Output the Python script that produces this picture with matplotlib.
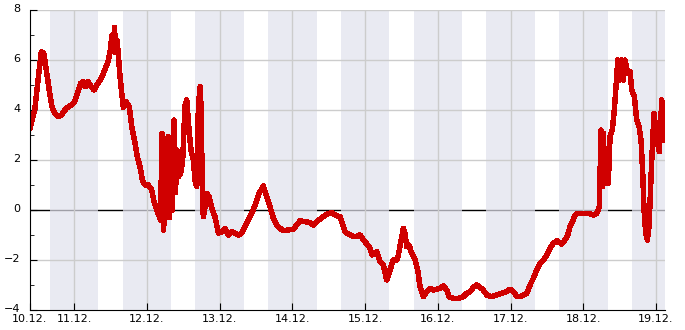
import numpy as np
import matplotlib
matplotlib.use("Agg")
import matplotlib.pyplot as plt
from matplotlib.ticker import MultipleLocator
from matplotlib.transforms import ScaledTranslation

# time in days since 10.12. 00:00, value
days = [0.395, 0.460, 0.505, 0.551, 0.584, 0.619, 0.666, 0.698, 0.735, 0.780,
        0.825, 0.894, 0.963, 1.010, 1.055, 1.092, 1.124, 1.155, 1.192, 1.238,
        1.275, 1.330, 1.375, 1.422, 1.467, 1.495, 1.522, 1.543, 1.557, 1.570,
        1.591, 1.612, 1.632, 1.656, 1.678, 1.715, 1.760, 1.793, 1.839, 1.870,
        1.907, 1.939, 1.976, 2.021, 2.068, 2.100, 2.137, 2.173, 2.189, 2.210,
        2.228, 2.251, 2.278, 2.292, 2.313, 2.333, 2.354, 2.375, 2.395, 2.416,
        2.437, 2.464, 2.492, 2.526, 2.549, 2.581, 2.608, 2.640, 2.663, 2.687,
        2.709, 2.732, 2.746, 2.764, 2.777, 2.801, 2.824, 2.856, 2.893, 2.938,
        2.984, 3.030, 3.076, 3.121, 3.168, 3.213, 3.258, 3.305, 3.351, 3.396,
        3.443, 3.488, 3.534, 3.580, 3.602, 3.649, 3.694, 3.740, 3.786, 3.832,
        3.877, 3.946, 4.014, 4.061, 4.107, 4.175, 4.244, 4.290, 4.336, 4.405,
        4.474, 4.542, 4.588, 4.656, 4.688, 4.725, 4.794, 4.863, 4.931, 5.000,
        5.069, 5.100, 5.161, 5.206, 5.252, 5.298, 5.344, 5.389, 5.436, 5.458,
        5.505, 5.527, 5.550, 5.573, 5.605, 5.642, 5.688, 5.724, 5.756, 5.801,
        5.848, 5.894, 5.939, 5.986, 6.031, 6.077, 6.123, 6.155, 6.214, 6.283,
        6.351, 6.398, 6.443, 6.489, 6.535, 6.581, 6.626, 6.673, 6.741, 6.810,
        6.879, 6.948, 6.993, 7.038, 7.085, 7.131, 7.176, 7.223, 7.268, 7.314,
        7.361, 7.406, 7.452, 7.498, 7.543, 7.589, 7.635, 7.704, 7.749, 7.786,
        7.818, 7.850, 7.887, 7.932, 8.001, 8.070, 8.138, 8.185, 8.221, 8.244,
        8.262, 8.276, 8.299, 8.322, 8.344, 8.368, 8.399, 8.427, 8.450, 8.474,
        8.505, 8.529, 8.551, 8.574, 8.611, 8.643, 8.666, 8.702, 8.735, 8.767,
        8.794, 8.817, 8.835, 8.859, 8.881, 8.904, 8.941, 8.973, 9.010, 9.046,
        9.079, 9.097, 9.110, 9.124]
values = [3.27, 4.0, 5.2, 6.33, 6.27, 5.6, 4.67, 4.13, 3.87, 3.73,
          3.8, 4.07, 4.2, 4.33, 4.73, 5.07, 5.13, 4.93, 5.13, 4.93,
          4.8, 5.07, 5.27, 5.6, 5.93, 6.3, 7.0, 6.4, 7.3, 6.3,
          6.8, 6.1, 5.33, 4.67, 4.1, 4.33, 4.13, 3.33, 2.67, 2.13,
          1.73, 1.2, 1.0, 1.0, 0.8, 0.33, 0.0, -0.27, -0.4, 3.07,
          -0.8, -0.13, 0.13, 2.93, -0.3, 2.9, 0.0, 3.6, 0.7, 2.4,
          1.33, 1.47, 1.9, 4.2, 4.4, 3.2, 2.4, 2.0, 1.2, 0.93,
          4.13, 4.93, 4.13, 0.8, -0.27, 0.13, 0.67, 0.53, 0.07, -0.27,
          -0.93, -0.87, -0.73, -1.0, -0.87, -0.93, -1.0, -0.93, -0.67, -0.4,
          -0.13, 0.2, 0.6, 0.85, 0.96, 0.53, 0.13, -0.33, -0.6, -0.73,
          -0.83, -0.8, -0.77, -0.6, -0.43, -0.47, -0.5, -0.6, -0.47, -0.31,
          -0.17, -0.11, -0.2, -0.27, -0.53, -0.87, -1.0, -1.07, -1.0, -1.27,
          -1.53, -1.8, -1.67, -2.07, -2.2, -2.8, -2.4, -2.0, -2.0, -1.8,
          -1.07, -0.73, -0.93, -1.47, -1.4, -1.73, -2.0, -2.4, -3.07, -3.47,
          -3.27, -3.13, -3.2, -3.17, -3.13, -3.04, -3.2, -3.47, -3.53, -3.53,
          -3.47, -3.33, -3.27, -3.09, -3.0, -3.09, -3.2, -3.4, -3.47, -3.4,
          -3.33, -3.27, -3.17, -3.27, -3.44, -3.47, -3.4, -3.33, -3.0, -2.73,
          -2.4, -2.13, -2.0, -1.8, -1.53, -1.33, -1.23, -1.36, -1.2, -1.0,
          -0.67, -0.47, -0.2, -0.13, -0.13, -0.13, -0.2, -0.13, 0.13, 3.2,
          0.93, 3.07, 1.07, 2.13, 1.07, 2.93, 3.2, 4.0, 4.93, 6.0,
          5.2, 6.0, 5.2, 6.0, 5.47, 5.53, 4.8, 4.53, 3.6, 3.33,
          2.8, 1.5, 0.0, -0.93, -1.2, -0.67, 2.0, 3.87, 2.8, 2.33,
          4.4, 3.5, 4.2, 2.8]

tick_days = [0.395, 1, 2, 3, 4, 5, 6, 7, 8, 9]
tick_labels = ["10.12.", "11.12.", "12.12.", "13.12.", "14.12.", "15.12.",
               "16.12.", "17.12.", "18.12.", "19.12."]
nights = [1, 2, 3, 4, 5, 6, 7, 8, 9]  # midnights, shaded 16:00 - 08:00

fig = plt.figure(figsize=(6.85, 3.3), dpi=100)
ax = fig.add_axes([0.0438, 0.0606, 0.9277, 0.9091])

ax.axhline(0, color="black", lw=1, zorder=0.5)
for n in nights:
    ax.axvspan(n - 1/3, n + 1/3, color="#e1e2ed", alpha=0.71, lw=0, zorder=1)
for y in [-2, 2, 4, 6, 8]:
    ax.axhline(y, color="#cccccc", lw=1, zorder=1.5)
for d in tick_days[1:]:
    ax.axvline(d, color="#cccccc", lw=1, zorder=1.5)

ax.plot(days, values, color="#d00000", lw=3.2, zorder=3, antialiased=False)

ax.set_xlim(0.395, 9.13)
ax.set_ylim(-4, 8)
ax.set_xticks(tick_days)
ax.set_xticklabels(tick_labels)
ax.yaxis.set_major_locator(MultipleLocator(2))
ax.yaxis.set_minor_locator(MultipleLocator(1))
ax.tick_params(axis="both", which="both", direction="in", labelsize=8,
               color="black")
ax.tick_params(axis="x", which="major", length=5, pad=3)
ax.tick_params(axis="y", which="major", length=5, pad=7)
ax.tick_params(axis="y", which="minor", length=3)
# nudge y labels up a little, like the reference
shift = ScaledTranslation(0, 1.5 / 72, fig.dpi_scale_trans)
for lab in ax.get_yticklabels():
    lab.set_transform(lab.get_transform() + shift)
for s in ["top", "right"]:
    ax.spines[s].set_visible(False)
ax.spines["left"].set_zorder(4)
ax.spines["bottom"].set_zorder(4)

fig.savefig("out.png", dpi=100)
